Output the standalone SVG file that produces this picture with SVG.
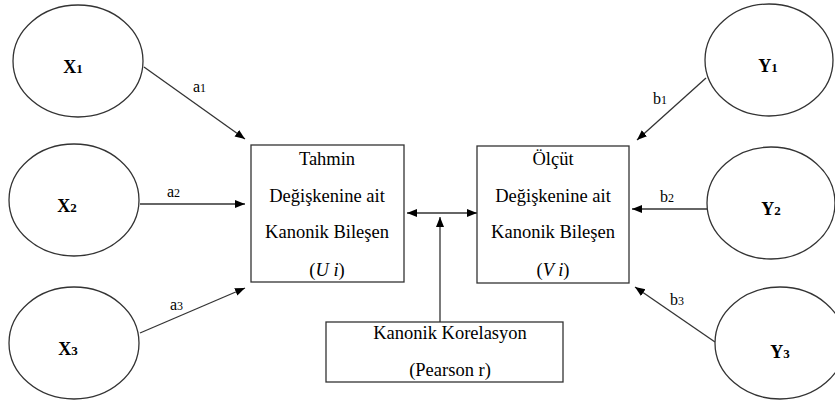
<svg xmlns="http://www.w3.org/2000/svg" width="835" height="403" viewBox="0 0 835 403">
<defs>
<marker id="ah" viewBox="0 0 10 10" refX="10" refY="5" markerWidth="10" markerHeight="10" markerUnits="userSpaceOnUse" orient="auto-start-reverse">
<path d="M0,1 L10,5 L0,9 Z" fill="#000"/>
</marker>
<style>
.ell{fill:#fff;stroke:#333;stroke-width:1.3}
.box{fill:#fff;stroke:#333;stroke-width:1.3}
.con{fill:none;stroke:#333;stroke-width:1.3}
.var{font-family:"Liberation Serif","Times New Roman",serif;font-weight:bold;font-size:18px;fill:#000;text-anchor:middle}
.sub{font-size:13px}
.lbl{font-family:"Liberation Serif","Times New Roman",serif;font-size:16px;fill:#000}
.lsub{font-size:12px}
.bt{font-family:"Liberation Serif","Times New Roman",serif;font-size:18.5px;fill:#000;text-anchor:middle}
</style>
</defs>
<rect width="835" height="403" fill="#fff"/>
<g id="connectors">
<line class="con" x1="144" y1="67" x2="245" y2="139" marker-end="url(#ah)"/>
<line class="con" x1="140" y1="204" x2="245" y2="204" marker-end="url(#ah)"/>
<line class="con" x1="140" y1="333" x2="245" y2="288" marker-end="url(#ah)"/>
<line class="con" x1="706" y1="78" x2="637" y2="140" marker-end="url(#ah)"/>
<line class="con" x1="707" y1="209" x2="632" y2="209" marker-end="url(#ah)"/>
<line class="con" x1="715" y1="342" x2="635" y2="287" marker-end="url(#ah)"/>
<line class="con" x1="407" y1="213" x2="477" y2="213" marker-start="url(#ah)" marker-end="url(#ah)"/>
<line class="con" x1="440" y1="322" x2="440" y2="217" marker-end="url(#ah)"/>
<text class="lbl" x="193" y="92">a<tspan class="lsub">1</tspan></text>
<text class="lbl" x="167" y="197">a<tspan class="lsub">2</tspan></text>
<text class="lbl" x="170" y="310">a<tspan class="lsub">3</tspan></text>
<text class="lbl" x="653" y="104">b<tspan class="lsub">1</tspan></text>
<text class="lbl" x="660" y="202">b<tspan class="lsub">2</tspan></text>
<text class="lbl" x="670" y="305">b<tspan class="lsub">3</tspan></text>
</g>
<g id="X1"><ellipse class="ell" cx="78" cy="61" rx="65" ry="56"/><text class="var" x="73" y="73">X<tspan class="sub">1</tspan></text></g>
<g id="X2"><ellipse class="ell" cx="74" cy="200" rx="65" ry="56"/><text class="var" x="67" y="212">X<tspan class="sub">2</tspan></text></g>
<g id="X3"><ellipse class="ell" cx="74" cy="343" rx="65" ry="56"/><text class="var" x="68" y="355">X<tspan class="sub">3</tspan></text></g>
<g id="Y1"><ellipse class="ell" cx="769" cy="60" rx="64" ry="56"/><text class="var" x="768" y="72">Y<tspan class="sub">1</tspan></text></g>
<g id="Y2"><ellipse class="ell" cx="771" cy="203" rx="64" ry="56"/><text class="var" x="771" y="215">Y<tspan class="sub">2</tspan></text></g>
<g id="Y3"><ellipse class="ell" cx="780" cy="343" rx="65" ry="56"/><text class="var" x="780" y="358">Y<tspan class="sub">3</tspan></text></g>
<g id="U">
<rect class="box" x="251" y="145" width="153" height="137"/>
<text class="bt" x="327" y="165">Tahmin</text>
<text class="bt" x="327" y="202">Değişkenine ait</text>
<text class="bt" x="327" y="238">Kanonik Bileşen</text>
<text class="bt" x="327" y="276">(<tspan font-style="italic">U i</tspan>)</text>
</g>
<g id="V">
<rect class="box" x="477" y="146" width="152" height="137"/>
<text class="bt" x="553" y="165">Ölçüt</text>
<text class="bt" x="553" y="202">Değişkenine ait</text>
<text class="bt" x="553" y="238">Kanonik Bileşen</text>
<text class="bt" x="553" y="276">(<tspan font-style="italic">V i</tspan>)</text>
</g>
<g id="K">
<rect class="box" x="326" y="322" width="237" height="60"/>
<text class="bt" x="450" y="339">Kanonik Korelasyon</text>
<text class="bt" x="450" y="376">(Pearson r)</text>
</g>
</svg>
